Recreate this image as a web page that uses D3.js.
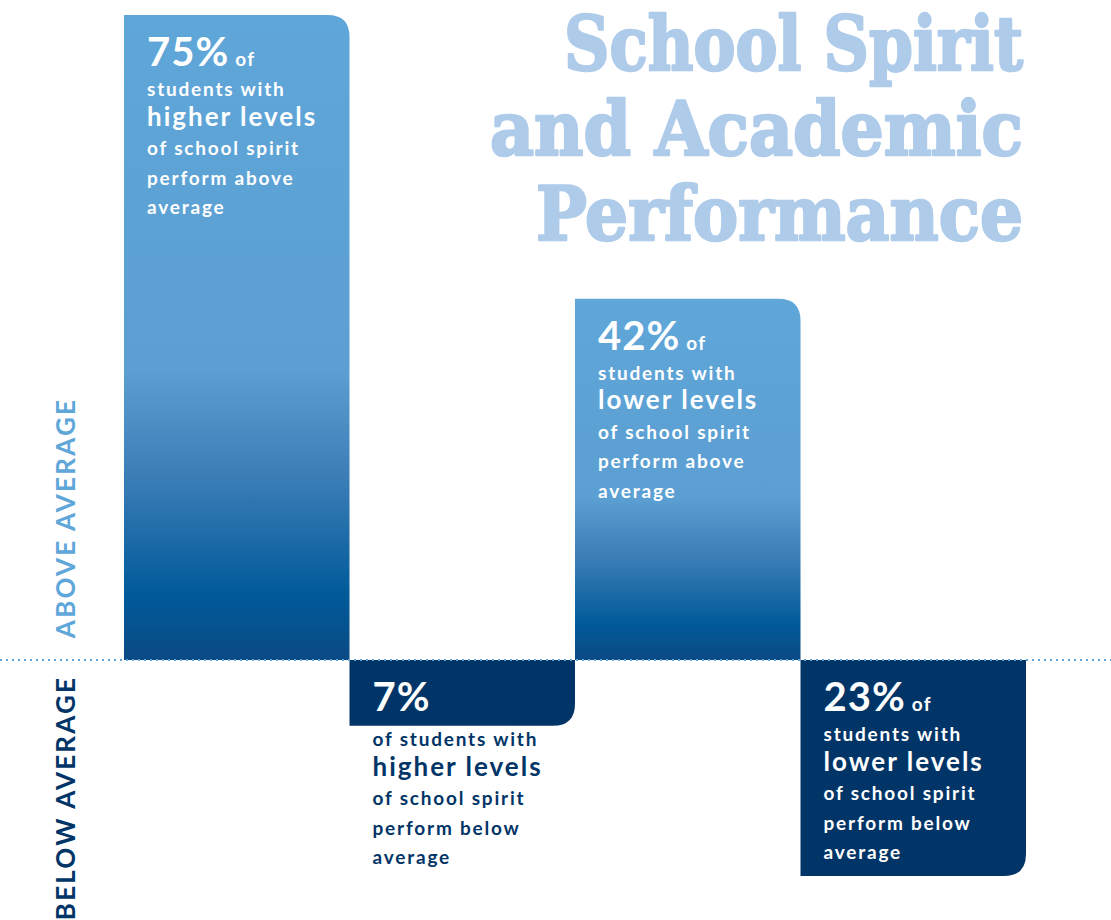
<!DOCTYPE html>
<html>
<head>
<meta charset="utf-8">
<script src="https://cdn.jsdelivr.net/npm/d3@7"></script>
<style>
  body { margin: 0; background: #fff; }
  svg text { font-family: Lato, "Open Sans", sans-serif; font-weight: 700; }
</style>
</head>
<body>
<div id="plot"></div>
<script>
  // data
  const groups = ["high_above", "high_below", "low_above", "low_below"];
  const values = [75, -7, 42, -23];
  const spirit = ["higher levels", "higher levels", "lower levels", "lower levels"];
  const outcome = ["perform above", "perform below", "perform above", "perform below"];
  const titleLines = ["School Spirit", "and Academic", "Performance"];
  const sideLabels = ["ABOVE AVERAGE", "BELOW AVERAGE"];

  const w = 1111;
  const h = 920;

  const svg = d3.select("div#plot")
      .append("svg")
      .attr("width", w)
      .attr("height", h);

  const defs = svg.append("defs");
  const grad = defs.append("linearGradient")
      .attr("id", "blueGrad")
      .attr("x1", 0).attr("y1", 0).attr("x2", 0).attr("y2", 1);
  grad.append("stop").attr("offset", "0").attr("stop-color", "#5fa6d9");
  grad.append("stop").attr("offset", "0.55").attr("stop-color", "#5c9fd2");
  grad.append("stop").attr("offset", "0.72").attr("stop-color", "#3a7db6");
  grad.append("stop").attr("offset", "0.9").attr("stop-color", "#005a99");
  grad.append("stop").attr("offset", "1").attr("stop-color", "#0b4a84");

  const xScale = d3.scaleBand()
      .domain(groups)
      .range([124, 1026])
      .padding(0);

  // above and below average drawn on their own stretch of the axis
  const yScale = d3.scaleLinear()
      .domain([-23, 0, 75])
      .range([876, 660, 15]);

  const r = 22;
  function barPath(d, i) {
    const x0 = xScale(groups[i]);
    const x1 = x0 + xScale.bandwidth();
    const y0 = yScale(0);
    const y1 = yScale(d);
    if (d >= 0) {
      return `M${x0},${y0} V${y1} H${x1 - r} Q${x1},${y1} ${x1},${y1 + r} V${y0} Z`;
    }
    return `M${x0},${y0} V${y1} H${x1 - r} Q${x1},${y1} ${x1},${y1 - r} V${y0} Z`;
  }

  svg.append("g")
    .selectAll("path")
    .data(values)
    .enter().append("path")
      .attr("d", barPath)
      .attr("fill", d => d >= 0 ? "url(#blueGrad)" : "#023567");

  // dotted baseline
  svg.append("line")
      .attr("x1", 0).attr("x2", w)
      .attr("y1", yScale(0)).attr("y2", yScale(0))
      .attr("stroke", "#5fa6d9")
      .attr("stroke-width", 2)
      .attr("stroke-dasharray", "2,4");

  // side labels
  svg.append("text")
      .attr("transform", `translate(75, ${(yScale(0) + 376) / 2}) rotate(-90)`)
      .attr("text-anchor", "middle")
      .attr("font-size", 26)
      .attr("letter-spacing", 2.2)
      .attr("fill", "#5fa6d9")
      .text(sideLabels[0]);

  svg.append("text")
      .attr("transform", `translate(75, ${(yScale(0) + 920) / 2 + 8}) rotate(-90)`)
      .attr("text-anchor", "middle")
      .attr("font-size", 26)
      .attr("letter-spacing", 2.2)
      .attr("fill", "#023567")
      .text(sideLabels[1]);

  // title
  const titleWidths = [459, 533, 487];
  svg.append("g")
    .selectAll("text")
    .data(titleLines)
    .enter().append("text")
      .attr("x", 1023)
      .attr("y", (d, i) => 70 + i * 85)
      .attr("text-anchor", "end")
      .attr("font-size", 74)
      .attr("fill", "#aecbea")
      .attr("stroke", "#aecbea")
      .attr("stroke-width", 2.5)
      .attr("stroke-linejoin", "round")
      .attr("textLength", (d, i) => titleWidths[i])
      .attr("lengthAdjust", "spacingAndGlyphs")
      .style("font-family", "'DejaVu Serif', serif")
      .text(d => d);

  // bar text blocks
  values.forEach(function (v, i) {
    const x = xScale(groups[i]) + 23;
    const top = v >= 0 ? yScale(v) : yScale(0);
    const fill = "#fff";
    const g = svg.append("g");

    const head = g.append("text")
        .attr("x", x)
        .attr("y", top + 51)
        .attr("fill", fill);
    head.append("tspan")
        .attr("font-size", 40)
        .attr("letter-spacing", 1)
        .text(Math.abs(v) + "%");
    if (i !== 1) {
      head.append("tspan")
          .attr("font-size", 19)
          .attr("dx", 6)
          .attr("letter-spacing", 1.5)
          .text("of");
    }

    let lines;
    let startY;
    let col = fill;
    if (i === 1) {
      lines = ["of students with", spirit[i], "of school spirit", outcome[i], "average"];
      startY = top + 86;
      col = "#023567";
    } else {
      lines = ["students with", spirit[i], "of school spirit", outcome[i], "average"];
      startY = top + 81;
    }
    g.selectAll("text.line")
      .data(lines)
      .enter().append("text")
        .attr("class", "line")
        .attr("x", x)
        .attr("y", (d, j) => startY + j * 29.5)
        .attr("font-size", (d, j) => j === 1 ? 26 : 19)
        .attr("letter-spacing", (d, j) => j === 1 ? 2 : 1.8)
        .attr("fill", col)
        .text(d => d);
  });
</script>
</body>
</html>
